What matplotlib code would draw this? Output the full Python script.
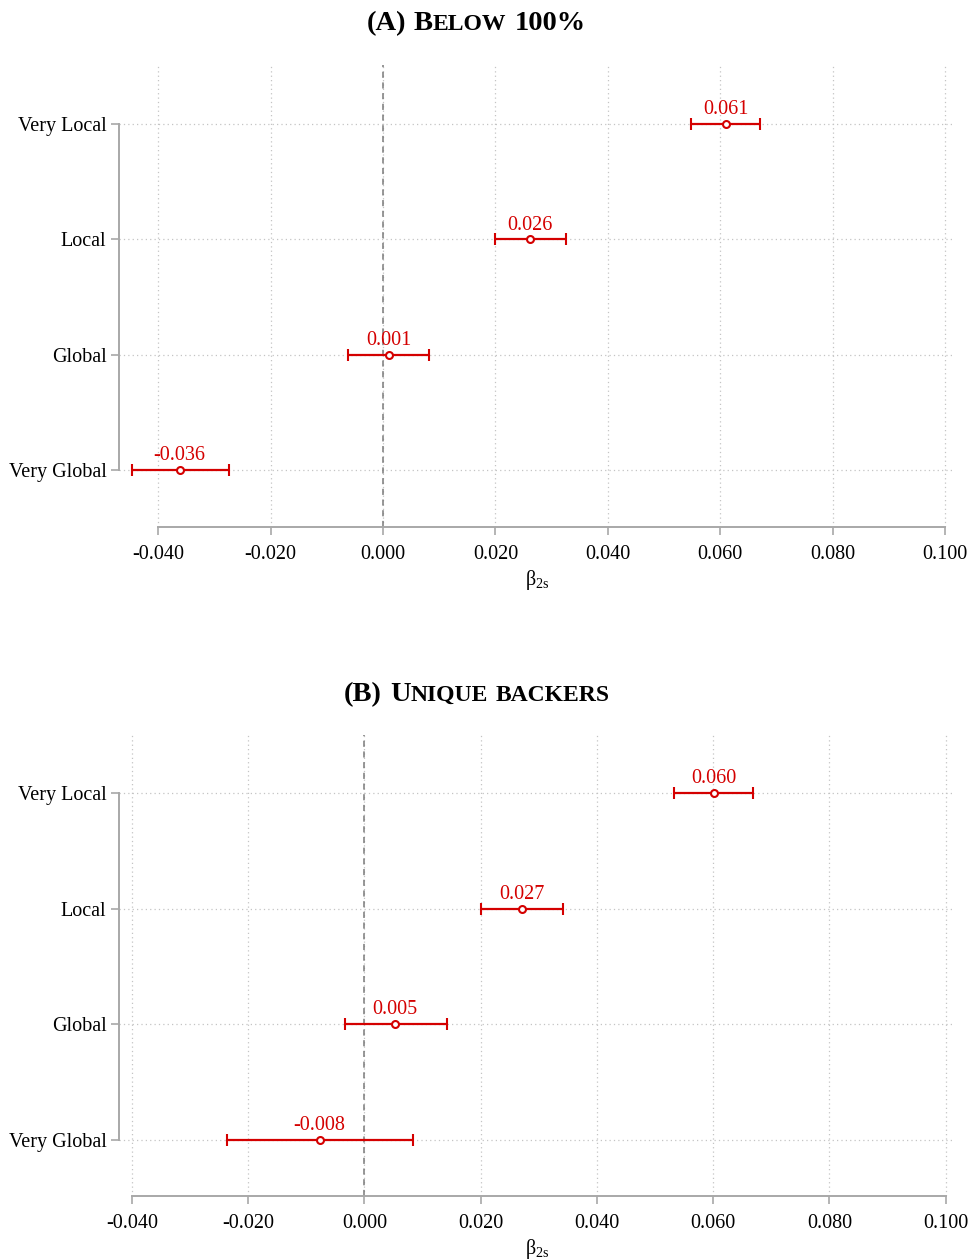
import matplotlib
matplotlib.use("Agg")
import matplotlib.pyplot as plt

# ---- data -------------------------------------------------------------
categories = ["Very Local", "Local", "Global", "Very Global"]

below_est = [0.0610, 0.0262, 0.0010, -0.0362]
below_lo = [0.0548, 0.0200, -0.0063, -0.0447]
below_hi = [0.0671, 0.0325, 0.0081, -0.0275]

unique_est = [0.0601, 0.0271, 0.0052, -0.0077]
unique_lo = [0.0532, 0.0201, -0.0034, -0.0236]
unique_hi = [0.0669, 0.0342, 0.0143, 0.0084]

xticks = [-0.04, -0.02, 0.0, 0.02, 0.04, 0.06, 0.08, 0.10]

# ---- style ------------------------------------------------------------
SERIF = ["Liberation Serif", "DejaVu Serif"]
plt.rcParams["font.family"] = SERIF
plt.rcParams["mathtext.fontset"] = "custom"
plt.rcParams["mathtext.rm"] = "Liberation Serif"
plt.rcParams["mathtext.it"] = "Liberation Serif:italic"
plt.rcParams["mathtext.bf"] = "Liberation Serif:bold"

RED = "#d40000"
AXIS_GRAY = "#a8a8a8"
GRID_GRAY = "#c4c4c4"

W, H = 972, 1260
DPI = 100
fig = plt.figure(figsize=(W / DPI, H / DPI), dpi=DPI)


def px_axes(left, right, top, bottom):
    return fig.add_axes([left / W, 1 - bottom / H, (right - left) / W, (bottom - top) / H])


def coef_panel(ax, est, lo, hi, xlim, ylim):
    n = len(categories)
    ypos = [n - 1 - i for i in range(n)]
    ax.set_xlim(*xlim)
    ax.set_ylim(*ylim)

    ax.set_xticks(xticks)
    ax.set_xticklabels([f"{t:.3f}" for t in xticks])
    ax.set_yticks(ypos)
    ax.set_yticklabels(categories)

    for x in xticks:
        ax.axvline(x, color=GRID_GRAY, lw=0.9, ls=(0, (1, 2.5)), zorder=0)
    for y in ypos:
        ax.axhline(y, color=GRID_GRAY, lw=0.9, ls=(0, (1, 2.5)), zorder=0)
    ax.axvline(0, color="#7a7a7a", lw=1.1, ls=(0, (4, 3)), zorder=1)

    xerr = [[e - l for e, l in zip(est, lo)], [h - e for e, h in zip(est, hi)]]
    ax.errorbar(est, ypos, xerr=xerr, fmt="o", color=RED, ecolor=RED,
                elinewidth=1.6, capsize=4.5, capthick=1.6,
                markersize=5, markerfacecolor="white", markeredgecolor=RED,
                markeredgewidth=1.5, zorder=3)
    for e, y in zip(est, ypos):
        ax.annotate(f"{e:.3f}", xy=(e, y), xytext=(0, 3.5), textcoords="offset points",
                    ha="center", va="bottom", color=RED, fontsize=14.5)

    for s in ("top", "right"):
        ax.spines[s].set_visible(False)
    for s in ("left", "bottom"):
        ax.spines[s].set_color(AXIS_GRAY)
        ax.spines[s].set_linewidth(1.4)
    ax.spines["left"].set_bounds(min(ypos), max(ypos))
    ax.spines["bottom"].set_bounds(xticks[0], xticks[-1])
    ax.tick_params(axis="both", colors=AXIS_GRAY, labelcolor="black",
                   labelsize=14.5, width=1.2, length=6)
    ax.tick_params(axis="y", pad=3)
    ax.tick_params(axis="x", pad=7)
    ax.set_xlabel(r"β$_{\rm 2s}$", fontsize=14.5, labelpad=3)


def smallcaps_title(xc_px, y_px, pieces, big=20.5, small=17):
    renderer = fig.canvas.get_renderer()
    texts = []
    for s, kind in pieces:
        if kind == "space":
            texts.append(None)
            continue
        size = big if kind == "big" else small
        t = fig.text(0, 1 - y_px / H, s, fontsize=size, fontweight="bold",
                     family=SERIF, ha="left", va="baseline")
        texts.append(t)
    widths = []
    for t in texts:
        if t is None:
            widths.append(big * 0.28 * DPI / 72)
        else:
            widths.append(t.get_window_extent(renderer).width)
    x = xc_px - sum(widths) / 2
    for t, w in zip(texts, widths):
        if t is not None:
            t.set_x(x / W)
        x += w


axA = px_axes(119, 955, 65, 527)
coef_panel(axA, below_est, below_lo, below_hi,
           (-0.04699, 0.1018), (-0.494, 3.512))

axB = px_axes(119, 955, 735, 1196)
coef_panel(axB, unique_est, unique_lo, unique_hi,
           (-0.0422, 0.1016), (-0.484, 3.50))

smallcaps_title(476, 30, [("(A)", "big"), (" ", "space"), ("B", "big"), ("ELOW", "small"),
                          (" ", "space"), ("100%", "big")])
smallcaps_title(477, 701, [("(B)", "big"), (" ", "space"), ("U", "big"), ("NIQUE", "small"),
                           (" ", "space"), ("BACKERS", "small")])

fig.savefig("out.png", dpi=DPI)
